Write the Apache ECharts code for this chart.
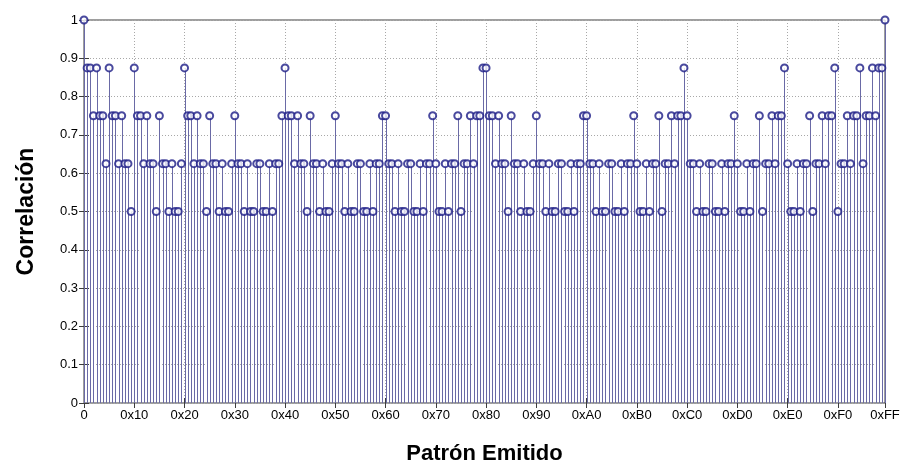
<!DOCTYPE html>
<html>
<head>
<meta charset="utf-8">
<script src="https://cdn.jsdelivr.net/npm/echarts@6/dist/echarts.min.js"></script>
<style>
  html, body { margin: 0; padding: 0; background: #fff; }
  #chart { width: 903px; height: 470px; }
</style>
</head>
<body>
<div id="chart"></div>
<script>
// Emitted byte pattern, 0x00 .. 0xFF
const patterns = Array.from({ length: 256 }, (_, i) => i);

// Correlation per emitted pattern, one row of 16 per high nibble
const correlation = [
  1, .875, .875, .75, .875, .75, .75, .625, .875, .75, .75, .625, .75, .625, .625, .5,
  .875, .75, .75, .625, .75, .625, .625, .5, .75, .625, .625, .5, .625, .5, .5, .625,
  .875, .75, .75, .625, .75, .625, .625, .5, .75, .625, .625, .5, .625, .5, .5, .625,
  .75, .625, .625, .5, .625, .5, .5, .625, .625, .5, .5, .625, .5, .625, .625, .75,
  .875, .75, .75, .625, .75, .625, .625, .5, .75, .625, .625, .5, .625, .5, .5, .625,
  .75, .625, .625, .5, .625, .5, .5, .625, .625, .5, .5, .625, .5, .625, .625, .75,
  .75, .625, .625, .5, .625, .5, .5, .625, .625, .5, .5, .625, .5, .625, .625, .75,
  .625, .5, .5, .625, .5, .625, .625, .75, .5, .625, .625, .75, .625, .75, .75, .875,
  .875, .75, .75, .625, .75, .625, .625, .5, .75, .625, .625, .5, .625, .5, .5, .625,
  .75, .625, .625, .5, .625, .5, .5, .625, .625, .5, .5, .625, .5, .625, .625, .75,
  .75, .625, .625, .5, .625, .5, .5, .625, .625, .5, .5, .625, .5, .625, .625, .75,
  .625, .5, .5, .625, .5, .625, .625, .75, .5, .625, .625, .75, .625, .75, .75, .875,
  .75, .625, .625, .5, .625, .5, .5, .625, .625, .5, .5, .625, .5, .625, .625, .75,
  .625, .5, .5, .625, .5, .625, .625, .75, .5, .625, .625, .75, .625, .75, .75, .875,
  .625, .5, .5, .625, .5, .625, .625, .75, .5, .625, .625, .75, .625, .75, .75, .875,
  .5, .625, .625, .75, .625, .75, .75, .875, .625, .75, .75, .875, .75, .875, .875, 1
];

// X tick positions and their labels
const xTickValues = [0, 16, 32, 48, 64, 80, 96, 112, 128, 144, 160, 176, 192, 208, 224, 240, 255];
const xTickLabels = ['0', '0x10', '0x20', '0x30', '0x40', '0x50', '0x60', '0x70', '0x80',
                     '0x90', '0xA0', '0xB0', '0xC0', '0xD0', '0xE0', '0xF0', '0xFF'];

const xTitle = 'Patrón Emitido';
const yTitle = 'Correlación';

const stemColor = '#6a6aa6';
const markColor = '#1c1c86';
const gridLine = { show: true, lineStyle: { color: '#a8a8a8', type: [1, 2], width: 1 } };
const font = 'Liberation Sans, Arial, sans-serif';

const pairs = patterns.map((p, i) => [p, correlation[i]]);

const chart = echarts.init(document.getElementById('chart'), null, { renderer: 'canvas' });
chart.setOption({
  animation: false,
  backgroundColor: '#ffffff',
  grid: { left: 84, right: 18, top: 20, bottom: 60, show: true, borderColor: '#3c3c3c', borderWidth: 1 },
  xAxis: [{
    type: 'value', min: 0, max: 255, interval: 16,
    axisLine: { show: false },
    axisTick: { show: true, inside: true, length: 5, customValues: xTickValues, lineStyle: { color: '#3c3c3c' } },
    axisLabel: {
      customValues: xTickValues,
      formatter: v => xTickLabels[xTickValues.indexOf(v)],
      color: '#000', fontFamily: font, fontSize: 13, margin: 6
    },
    splitLine: gridLine,
    name: xTitle, nameLocation: 'middle', nameGap: 40,
    nameTextStyle: { color: '#000', fontFamily: font, fontSize: 22, fontWeight: 'bold' }
  }, {
    type: 'value', min: 0, max: 255, position: 'top',
    axisLine: { show: false },
    axisTick: { show: true, inside: true, length: 5, customValues: xTickValues, lineStyle: { color: '#3c3c3c' } },
    axisLabel: { show: false }, splitLine: { show: false }
  }],
  yAxis: [{
    type: 'value', min: 0, max: 1, interval: 0.1,
    axisLine: { show: false },
    axisTick: { show: true, inside: true, length: 5, lineStyle: { color: '#3c3c3c' } },
    axisLabel: {
      formatter: v => String(Number(v.toFixed(1))),
      color: '#000', fontFamily: font, fontSize: 13, margin: 6
    },
    splitLine: gridLine,
    name: yTitle, nameLocation: 'middle', nameGap: 46, nameRotate: 90,
    nameTextStyle: { color: '#000', fontFamily: font, fontSize: 23, fontWeight: 'bold' }
  }, {
    type: 'value', min: 0, max: 1, interval: 0.1, position: 'right',
    axisLine: { show: false },
    axisTick: { show: true, inside: true, length: 5, lineStyle: { color: '#3c3c3c' } },
    axisLabel: { show: false }, splitLine: { show: false }
  }],
  series: [{
    // stems drawn from the baseline up to each value
    type: 'custom',
    xAxisIndex: 0, yAxisIndex: 0,
    data: pairs,
    renderItem: (params, api) => {
      const top = api.coord([api.value(0), api.value(1)]);
      const base = api.coord([api.value(0), 0]);
      const x = Math.round(top[0]) + 0.5;
      return {
        type: 'line',
        shape: { x1: x, y1: base[1], x2: x, y2: top[1] },
        style: { stroke: stemColor, lineWidth: 1 }
      };
    },
    z: 2
  }, {
    type: 'scatter',
    xAxisIndex: 0, yAxisIndex: 0,
    data: pairs,
    symbol: 'emptyCircle',
    symbolSize: 7,
    itemStyle: { color: markColor, borderColor: markColor, borderWidth: 1 },
    z: 3
  }]
});
</script>
</body>
</html>
